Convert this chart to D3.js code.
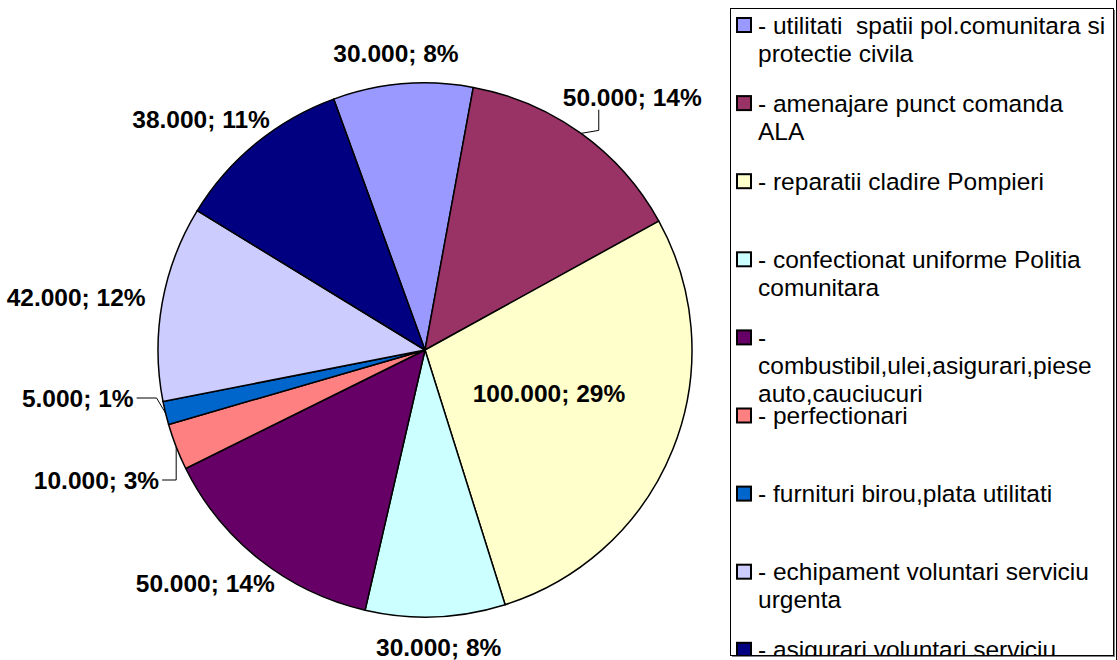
<!DOCTYPE html>
<html>
<head>
<meta charset="utf-8">
<script src="https://cdn.jsdelivr.net/npm/d3@7"></script>
<style>
  body { margin: 0; background: #fff; }
  svg { display: block; font-family: "Liberation Sans", Arial, sans-serif; }
  svg text { white-space: pre; }
</style>
</head>
<body>
<div id="container"></div>
<script>
// datos
const categories = [
  "utilitati spatii pol.comunitara si protectie civila",
  "amenajare punct comanda ALA",
  "reparatii cladire Pompieri",
  "confectionat uniforme Politia comunitara",
  "combustibil,ulei,asigurari,piese auto,cauciucuri",
  "perfectionari",
  "furnituri birou,plata utilitati",
  "echipament voluntari serviciu urgenta",
  "asigurari voluntari serviciu"
];
const values = [30000, 50000, 100000, 30000, 50000, 10000, 5000, 42000, 38000];
const pctLabels = ["8%", "14%", "29%", "8%", "14%", "3%", "1%", "12%", "11%"];
const colors = ["#9999FF", "#993366", "#FFFFCC", "#CCFFFF", "#660066",
                "#FF8080", "#0066CC", "#CCCCFF", "#000080"];
const legendLines = [
  ["- utilitati  spatii pol.comunitara si", "protectie civila"],
  ["- amenajare punct comanda", "ALA"],
  ["- reparatii cladire Pompieri"],
  ["- confectionat uniforme Politia", "comunitara"],
  ["-", "combustibil,ulei,asigurari,piese", "auto,cauciucuri"],
  ["- perfectionari"],
  ["- furnituri birou,plata utilitati"],
  ["- echipament voluntari serviciu", "urgenta"],
  ["- asigurari voluntari serviciu", "urgenta"]
];

const width = 1117, height = 660;
const cx = 425, cy = 350, r = 267;
const startDeg = -20;

const svg = d3.select('#container').append('svg')
  .attr('width', width).attr('height', height);

// formato con punto de miles
const fmt = d3.formatLocale({ decimal: ",", thousands: ".", grouping: [3], currency: ["", ""] }).format(",");

const start = startDeg * Math.PI / 180;
const pie = d3.pie().sort(null).value(d => d)
  .startAngle(start).endAngle(start + 2 * Math.PI);
const arcs = pie(values);
const arc = d3.arc().innerRadius(0).outerRadius(r);

const g = svg.append('g').attr('transform', `translate(${cx},${cy})`);
g.selectAll('path.slice')
  .data(arcs)
  .enter().append('path')
    .attr('class', 'slice')
    .attr('d', arc)
    .attr('fill', (d, i) => colors[i])
    .attr('stroke', '#000')
    .attr('stroke-width', 1.5)
    .attr('stroke-linejoin', 'round');

// etiquetas
const fontSize = 24.5;
const pad = 18;
const total = d3.sum(values);
const labels = arcs.map((d, i) => {
  const text = fmt(values[i]) + "; " + pctLabels[i];
  const a = (d.startAngle + d.endAngle) / 2;
  return { i, a, text, inside: values[i] / total > 0.25 };
});

// medir texto
const meas = svg.append('text').attr('font-size', fontSize).attr('font-weight', 'bold');
labels.forEach(l => {
  meas.text(l.text);
  l.w = meas.node().getComputedTextLength();
  l.h = fontSize;
});
meas.remove();

labels.forEach(l => {
  const s = Math.sin(l.a), c = -Math.cos(l.a);
  l.rim = [r * s, r * c];
  if (l.inside) {
    const ct = arc.centroid(arcs[l.i]);
    l.x = ct[0]; l.y = ct[1] - 6;
  } else {
    const px = (r + pad) * s, py = (r + pad) * c;
    l.x = px + (l.w / 2) * s;
    l.y = py + (l.h / 2) * c;
  }
  l.y0 = l.y;
});

// separar etiquetas del lado izquierdo
const minGap = 82;
const left = labels.filter(l => !l.inside && l.x < 0 && Math.abs(l.y) < r).sort((a, b) => a.y - b.y);
for (let k = 0; k < 50; k++) {
  for (let j = 1; j < left.length; j++) {
    const gap = left[j].y - left[j - 1].y;
    if (gap < minGap) {
      const m = (minGap - gap) / 2;
      left[j - 1].y -= m; left[j].y += m;
    }
  }
}
left.forEach(l => {
  if (Math.abs(l.y - l.y0) > 1) {
    const yy = l.y - (l.h / 2) * (-Math.cos(l.a));
    const px = -Math.sqrt(Math.max(0, (r + pad) ** 2 - yy * yy));
    l.x = px - l.w / 2 - 10;
    l.moved = 'side';
  }
});

// etiquetas arriba a la derecha que tocan el circulo: subir
labels.filter(l => !l.inside && l.x > 0 && l.y < 0).forEach(l => {
  const cxn = l.x - l.w / 2;
  let cyn = l.y + l.h / 2;
  if (Math.hypot(cxn, cyn) < r + 6) {
    const ny = -Math.sqrt((r + 10) ** 2 - cxn * cxn);
    l.y -= (cyn - ny);
    l.moved = 'up';
  }
});

// lineas guia
labels.filter(l => l.moved).forEach(l => {
  let pts;
  if (l.moved === 'side') {
    const ex = l.x + l.w / 2 + 3;
    const elbow = l.rim[0] - (l.y < l.rim[1] ? 9 : 0);
    pts = [[ex, l.y], [elbow, l.y], l.rim];
  } else {
    const lx = l.x - l.w / 2 + 36;
    pts = [[lx, l.y + l.h / 2], [lx, l.rim[1] - 3], l.rim];
  }
  g.append('polyline')
    .attr('points', pts.map(p => p.join(',')).join(' '))
    .attr('fill', 'none')
    .attr('stroke', '#000')
    .attr('stroke-width', 1);
});

g.selectAll('text.lbl')
  .data(labels)
  .enter().append('text')
    .attr('class', 'lbl')
    .attr('x', d => d.x)
    .attr('y', d => d.y)
    .attr('dy', '0.35em')
    .attr('text-anchor', 'middle')
    .attr('font-size', fontSize)
    .attr('font-weight', 'bold')
    .attr('fill', '#000')
    .text(d => d.text);

// leyenda
const lg = { x: 730, y: 8, w: 383, h: 647 };
const slot = 78.1, firstY = 25, lineH = 28;
svg.append('line')
  .attr('x1', 1116.5).attr('x2', 1116.5).attr('y1', 0).attr('y2', height)
  .attr('stroke', '#000').attr('stroke-width', 1);
svg.append('rect')
  .attr('x', lg.x + 2).attr('y', lg.y + 2).attr('width', lg.w).attr('height', lg.h)
  .attr('fill', '#808080');
svg.append('defs').append('clipPath').attr('id', 'lgclip')
  .append('rect').attr('x', lg.x).attr('y', lg.y).attr('width', lg.w).attr('height', lg.h);
svg.append('rect')
  .attr('x', lg.x + 0.5).attr('y', lg.y + 0.5).attr('width', lg.w).attr('height', lg.h)
  .attr('fill', '#fff');
const items = svg.append('g').attr('clip-path', 'url(#lgclip)')
  .selectAll('g.item')
  .data(categories)
  .enter().append('g')
    .attr('class', 'item')
    .attr('transform', (d, i) => `translate(0,${firstY + i * slot})`);
items.append('rect')
  .attr('x', 737).attr('y', -7).attr('width', 14).attr('height', 14)
  .attr('fill', (d, i) => colors[i])
  .attr('stroke', '#000').attr('stroke-width', 2);
items.each(function(d, i) {
  d3.select(this).selectAll('text')
    .data(legendLines[i])
    .enter().append('text')
      .attr('x', 758)
      .attr('y', (t, k) => k * lineH)
      .attr('dy', '0.35em')
      .attr('font-size', 24.5)
      .attr('fill', '#000')
      .text(t => t);
});
svg.append('rect')
  .attr('x', lg.x + 0.5).attr('y', lg.y + 0.5).attr('width', lg.w).attr('height', lg.h)
  .attr('fill', 'none').attr('stroke', '#000').attr('stroke-width', 1);
</script>
</body>
</html>
